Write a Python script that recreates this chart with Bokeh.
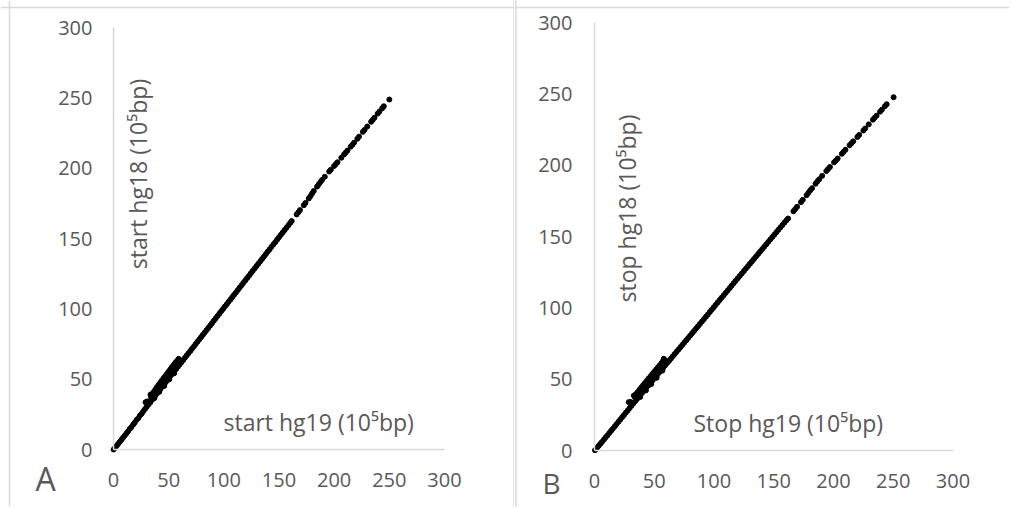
import numpy as np
from bokeh.plotting import figure
from bokeh.models import LinearAxis, FixedTicker, Span, Label, Range1d
from bokeh.layouts import row
from bokeh.embed import file_html
from bokeh.resources import INLINE

# ---------------- data (units of 10^5 bp) ----------------
ticks = [0, 50, 100, 150, 200, 250, 300]

# Panel A: start positions
start_hg19_dense = [0.1, 1.4, 2.9, 4.2, 5.8, 7.3, 8.6, 10.2, 11.7, 13.1, 14.8, 16.3, 17.9, 19.2, 20.8, 22.5, 24.0, 25.6, 27.1, 28.7,
                    30.2, 31.8, 33.3, 34.9, 36.4, 38.1, 39.6, 41.2, 42.7, 44.3, 45.9, 47.4, 49.0, 50.6, 52.1, 53.7, 55.2, 56.8, 58.4, 59.9,
                    61.5, 63.2, 64.8, 66.3, 67.9, 69.6, 71.2, 72.9, 74.5, 76.1, 77.8, 79.4, 81.1, 82.7, 84.4, 86.0, 87.7, 89.3, 91.0, 92.6,
                    94.3, 96.0, 97.6, 99.3, 101.0, 102.7, 104.3, 106.0, 107.6, 109.3, 111.0, 112.7, 114.4, 116.1, 117.7, 119.4, 121.1, 122.8, 124.5, 126.2,
                    127.9, 129.6, 131.3, 133.0, 134.7, 136.4, 138.1, 139.8, 141.5, 143.2, 144.9, 146.6, 148.3, 150.0, 151.7, 153.4, 155.1, 156.8, 158.5, 160.2]
start_hg18_dense = [0.0, 1.2, 2.6, 4.0, 5.5, 7.0, 8.4, 9.9, 11.5, 12.8, 14.7, 16.0, 17.8, 19.1, 20.9, 22.3, 24.2, 25.5, 27.3, 28.9,
                    30.4, 32.1, 33.5, 35.3, 36.8, 38.5, 40.1, 41.6, 43.2, 44.8, 46.3, 47.9, 49.6, 51.1, 52.7, 54.2, 55.8, 57.3, 58.9, 60.4,
                    62.0, 63.6, 65.3, 66.8, 68.4, 70.0, 71.7, 73.3, 75.0, 76.6, 78.3, 79.9, 81.6, 83.2, 84.9, 86.5, 88.2, 89.8, 91.6, 93.2,
                    94.9, 96.6, 98.3, 99.9, 101.7, 103.3, 105.0, 106.6, 108.3, 110.0, 111.7, 113.4, 115.1, 116.8, 118.5, 120.1, 121.9, 123.5, 125.3, 127.0,
                    128.7, 130.4, 132.1, 133.8, 135.5, 137.2, 138.9, 140.7, 142.3, 144.1, 145.8, 147.4, 149.2, 150.9, 152.6, 154.3, 156.0, 157.7, 159.4, 161.1]
start_hg19_cluster = [29.0, 30.5, 33.5, 35.0, 36.5, 38.0, 39.5, 41.0, 42.5, 44.0, 45.5, 47.0, 48.5, 50.0, 51.5, 53.0, 54.5, 56.0, 57.5, 59.0,
                      60.0, 61.0, 37.0, 41.5, 46.0, 50.5, 55.0, 36.0, 40.0, 44.0, 48.0, 52.0, 56.0, 60.0,
                      34.0, 38.0, 42.0, 46.0, 50.0, 54.0, 58.0]
start_hg18_cluster = [33.6, 34.2, 39.0, 39.5, 41.0, 42.8, 44.5, 46.0, 47.6, 49.2, 50.8, 52.3, 53.9, 55.5, 57.0, 58.6, 60.1, 61.7, 63.0, 64.5,
                      63.5, 62.0, 36.5, 41.0, 45.2, 49.8, 54.2, 38.4, 42.6, 46.5, 50.6, 54.4, 58.5, 62.4,
                      37.3, 41.3, 45.3, 49.3, 53.3, 57.3, 61.3]
start_hg19_sparse = [161.5, 166.0, 167.5, 169.0, 172.5, 174.0, 177.0, 178.5, 180.0, 181.5, 184.5, 186.0, 187.5, 189.0, 191.5,
                     195.5, 197.0, 200.0, 201.5, 203.0, 206.5, 209.0, 210.5, 212.0, 215.0, 216.5, 218.0, 221.0, 222.5,
                     226.0, 227.5, 230.0, 233.5, 235.0, 236.5, 239.5, 241.0, 243.5, 245.0, 250.0]
start_hg18_sparse = [162.4, 167.1, 168.6, 170.2, 173.7, 175.3, 178.5, 180.1, 182.0, 183.8, 186.9, 188.5, 190.1, 191.6, 193.9,
                     197.6, 198.9, 201.6, 202.9, 204.2, 207.4, 209.8, 211.1, 212.5, 215.3, 216.6, 218.1, 220.9, 222.4,
                     225.8, 227.2, 229.6, 233.0, 234.4, 235.9, 238.8, 240.2, 242.6, 244.0, 248.8]

# Panel B: stop positions
stop_hg19_dense = [0.4, 1.9, 3.3, 4.8, 6.2, 7.9, 9.3, 10.8, 12.4, 13.9, 15.3, 17.0, 18.5, 20.1, 21.6, 23.2, 24.7, 26.3, 27.8, 29.4,
                   31.0, 32.5, 34.1, 35.6, 37.2, 38.8, 40.3, 41.9, 43.4, 45.0, 46.6, 48.2, 49.7, 51.3, 52.9, 54.4, 56.0, 57.6, 59.1, 60.7,
                   62.3, 63.9, 65.5, 67.1, 68.7, 70.3, 71.9, 73.5, 75.2, 76.8, 78.4, 80.0, 81.7, 83.3, 85.0, 86.6, 88.2, 89.9, 91.5, 93.2,
                   94.8, 96.5, 98.1, 99.8, 101.5, 103.1, 104.8, 106.5, 108.1, 109.8, 111.5, 113.2, 114.8, 116.5, 118.2, 119.9, 121.6, 123.3, 125.0, 126.7,
                   128.4, 130.1, 131.8, 133.5, 135.2, 136.9, 138.6, 140.3, 142.0, 143.7, 145.4, 147.1, 148.8, 150.5, 152.2, 153.9, 155.6, 157.3, 159.0, 160.6]
stop_hg18_dense = [0.2, 1.7, 3.1, 4.6, 6.0, 7.7, 9.2, 10.6, 12.3, 13.8, 15.2, 17.0, 18.5, 20.2, 21.7, 23.4, 24.9, 26.6, 28.1, 29.8,
                   31.4, 33.0, 34.6, 36.1, 37.7, 39.4, 40.9, 42.5, 44.0, 45.6, 47.2, 48.8, 50.3, 51.9, 53.5, 55.0, 56.6, 58.2, 59.7, 61.3,
                   62.8, 64.4, 66.0, 67.6, 69.2, 70.8, 72.4, 74.0, 75.7, 77.3, 78.9, 80.5, 82.2, 83.8, 85.5, 87.1, 88.7, 90.4, 92.0, 93.7,
                   95.3, 97.1, 98.7, 100.4, 102.1, 103.8, 105.5, 107.2, 108.8, 110.5, 112.2, 113.9, 115.6, 117.3, 119.0, 120.7, 122.4, 124.1, 125.8, 127.5,
                   129.2, 130.9, 132.6, 134.3, 136.0, 137.7, 139.4, 141.1, 142.8, 144.5, 146.2, 147.9, 149.6, 151.3, 153.0, 154.7, 156.4, 158.1, 159.8, 161.4]
stop_hg19_cluster = [28.7, 30.2, 32.9, 34.5, 36.0, 37.6, 39.1, 40.7, 42.2, 43.8, 45.3, 46.9, 48.4, 50.0, 51.5, 53.1, 54.6, 56.2, 57.2, 58.0,
                     59.4, 60.5, 38.2, 43.0, 47.5, 52.0, 56.8, 35.5, 39.6, 43.7, 47.8, 51.9, 56.0, 59.8,
                     34.0, 38.0, 42.0, 46.0, 50.0, 54.0, 58.0]
stop_hg18_cluster = [33.9, 34.0, 38.5, 39.4, 40.9, 42.6, 44.2, 45.8, 47.3, 48.9, 50.5, 52.0, 53.6, 55.2, 56.7, 58.3, 59.8, 61.4, 62.6, 64.3,
                     63.0, 61.6, 37.5, 42.1, 46.6, 51.0, 56.0, 37.8, 42.0, 46.1, 50.2, 54.3, 58.4, 62.1,
                     37.2, 41.1, 45.2, 49.3, 53.1, 57.2, 61.2]
stop_hg19_sparse = [162.0, 166.5, 168.0, 169.5, 172.8, 174.3, 177.5, 179.0, 180.5, 182.0, 185.0, 186.5, 188.0, 190.5,
                    194.0, 195.5, 197.0, 200.5, 202.0, 203.5, 207.0, 208.5, 210.0, 213.5, 215.0, 216.5, 220.0, 221.5,
                    225.0, 226.5, 229.5, 233.0, 234.5, 236.0, 239.0, 240.5, 243.0, 244.5, 250.3]
stop_hg18_sparse = [162.6, 167.7, 169.2, 170.8, 174.1, 175.7, 179.0, 180.6, 182.3, 183.8, 187.0, 188.6, 190.1, 192.5,
                    195.9, 197.3, 198.7, 202.0, 203.3, 204.7, 208.0, 209.4, 210.8, 214.0, 215.3, 216.7, 219.8, 221.2,
                    224.3, 225.7, 228.6, 231.9, 233.3, 234.7, 237.5, 238.9, 241.3, 242.7, 247.6]

start_hg19 = start_hg19_dense + start_hg19_cluster + start_hg19_sparse
start_hg18 = start_hg18_dense + start_hg18_cluster + start_hg18_sparse
stop_hg19 = stop_hg19_dense + stop_hg19_cluster + stop_hg19_sparse
stop_hg18 = stop_hg18_dense + stop_hg18_cluster + stop_hg18_sparse
assert len(start_hg19) == len(start_hg18), (len(start_hg19), len(start_hg18))
assert len(stop_hg19) == len(stop_hg18), (len(stop_hg19), len(stop_hg18))

# ---------------- styling ----------------
FONT = "Open Sans"
TXT = "#595959"
AXC = "#d9d9d9"
H = 506


def panel(width, x0px, xs, y0px, ys, xvals, yvals, xtitle, ytitle, ytitle_pos, xtitle_pos,
          letter, letter_pos, letter_size, borders, x_stand, y_stand):
    # x0px / y0px: canvas px of data 0; xs / ys: px per unit. Positions given in canvas px.
    xr = Range1d(-x0px / xs, (width - x0px) / xs)
    yr = Range1d((y0px - H) / ys, y0px / ys)
    p = figure(width=width, height=H, x_range=xr, y_range=yr, output_backend="svg",
               toolbar_location=None, x_axis_location=None, y_axis_location=None,
               min_border=0, outline_line_color=None, background_fill_color="white",
               border_fill_color="white")
    p.xgrid.visible = False
    p.ygrid.visible = False

    def dx(px):
        return (px - x0px) / xs

    def dy(py):
        return (y0px - py) / ys

    common = dict(bounds=(0, 300), ticker=FixedTicker(ticks=ticks), axis_line_color=AXC,
                  axis_line_width=1.5, major_tick_line_color=None, minor_tick_line_color=None,
                  major_tick_in=0, major_tick_out=0, minor_tick_in=0, minor_tick_out=0,
                  major_label_text_font=FONT, major_label_text_font_size="20px",
                  major_label_text_color=TXT)
    xa = LinearAxis(fixed_location=0, major_label_standoff=x_stand, **common)
    ya = LinearAxis(fixed_location=0, major_label_standoff=y_stand, **common)
    p.add_layout(xa, "below")
    p.add_layout(ya, "left")

    p.scatter(xvals, yvals, size=5, marker="circle", fill_color="black", line_color="black")

    p.add_layout(Label(x=dx(xtitle_pos[0]), y=dy(xtitle_pos[1]), text=xtitle, text_font=FONT,
                       text_font_size="23px", text_color=TXT, text_align="left",
                       text_baseline="alphabetic"))
    p.add_layout(Label(x=dx(ytitle_pos[0]), y=dy(ytitle_pos[1]), text=ytitle, text_font=FONT,
                       text_font_size="23px", text_color=TXT, text_align="center",
                       text_baseline="middle", angle=np.pi / 2))
    p.add_layout(Label(x=dx(letter_pos[0]), y=dy(letter_pos[1]), text=letter, text_font=FONT,
                       text_font_size=letter_size, text_color=TXT, text_align="center",
                       text_baseline="alphabetic"))

    for kind, px in borders:
        if kind == "v":
            p.add_layout(Span(location=dx(px), dimension="height", line_color=AXC, line_width=1.5))
        else:
            p.add_layout(Span(location=dy(px), dimension="width", line_color=AXC, line_width=1.5))
    return p


# Panel A occupies page x 0..514
WA = 514
pA = panel(WA, 113, 331 / 300, 449, 422 / 300, start_hg19, start_hg18,
           "start hg19 (10\u2075bp)", "start hg18 (10\u2075bp)",
           ytitle_pos=(137, 173.5), xtitle_pos=(223, 421),
           letter="A", letter_pos=(45, 477.5), letter_size="32px",
           borders=[("v", 9), ("v", 513.5), ("h", 7)], x_stand=23, y_stand=21)

# Panel B occupies page x 514..1009
WB = 495
pB = panel(WB, 594 - WA, 358.5 / 300, 450, 428 / 300, stop_hg19, stop_hg18,
           "Stop hg19 (10\u2075bp)", "stop hg18 (10\u2075bp)",
           ytitle_pos=(626 - WA, 208), xtitle_pos=(693 - WA, 422),
           letter="B", letter_pos=(551 - WA, 482), letter_size="28px",
           borders=[("v", 1.5), ("h", 7)], x_stand=23, y_stand=22)

layout = row(pA, pB)
open("out.html", "w").write(file_html(layout, INLINE))
